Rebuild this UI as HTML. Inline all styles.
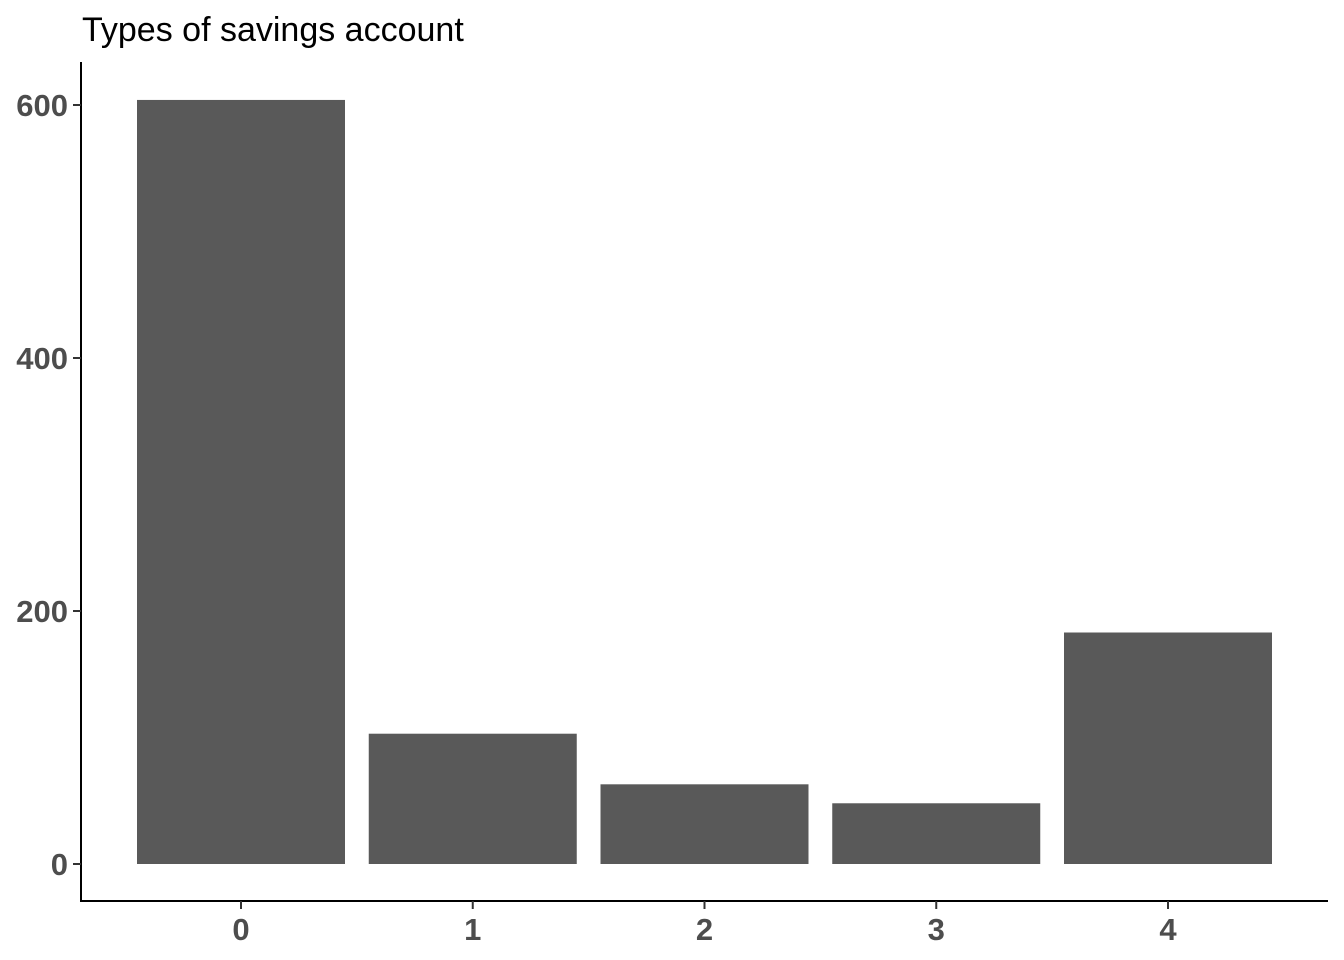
<!DOCTYPE html>
<html><head><meta charset="utf-8"><style>
body{margin:0;background:#fff}
svg{display:block;font-family:"Liberation Sans",sans-serif}
</style></head><body>
<svg id="chart" width="1344" height="960">
<text x="82" y="41" font-size="34" fill="#000">Types of savings account</text>
<line x1="81" y1="62" x2="81" y2="902" stroke="#000" stroke-width="2"/>
<line x1="80" y1="901" x2="1328" y2="901" stroke="#000" stroke-width="2"/>
<g id="bars"></g><g id="ticks"></g>
</svg>
<script>
const categories=["0","1","2","3","4"];
const counts=[604,103,63,48,183];
const yTicks=[0,200,400,600];
const ns="http://www.w3.org/2000/svg";
const y=v=>864-v*1.265;
const x=i=>241+i*231.75;
const bars=document.getElementById('bars'),ticks=document.getElementById('ticks');
function mk(t,a,p){const e=document.createElementNS(ns,t);for(const k in a)e.setAttribute(k,a[k]);p.appendChild(e);return e;}
counts.forEach((v,i)=>{
 const r=mk('rect',{x:x(i)-104,y:y(v),width:208,height:y(0)-y(v),fill:'#595959'},bars);
 
 
 const tl=mk('line',{x1:x(i),x2:x(i),y1:901,y2:909,stroke:'#333','stroke-width':2},ticks);
 
 
 const t=mk('text',{x:x(i),y:940,'text-anchor':'middle','font-size':31,'font-weight':'bold',fill:'#4d4d4d'},ticks);
 t.textContent=categories[i];
 
 
});
yTicks.forEach(v=>{
 const tl=mk('line',{x1:73,x2:81,y1:y(v),y2:y(v),stroke:'#333','stroke-width':2},ticks);
 
 
 const t=mk('text',{x:68,y:y(v)+11,'text-anchor':'end','font-size':31,'font-weight':'bold',fill:'#4d4d4d'},ticks);
 t.textContent=v;
 
 
});
</script>
</body></html>
